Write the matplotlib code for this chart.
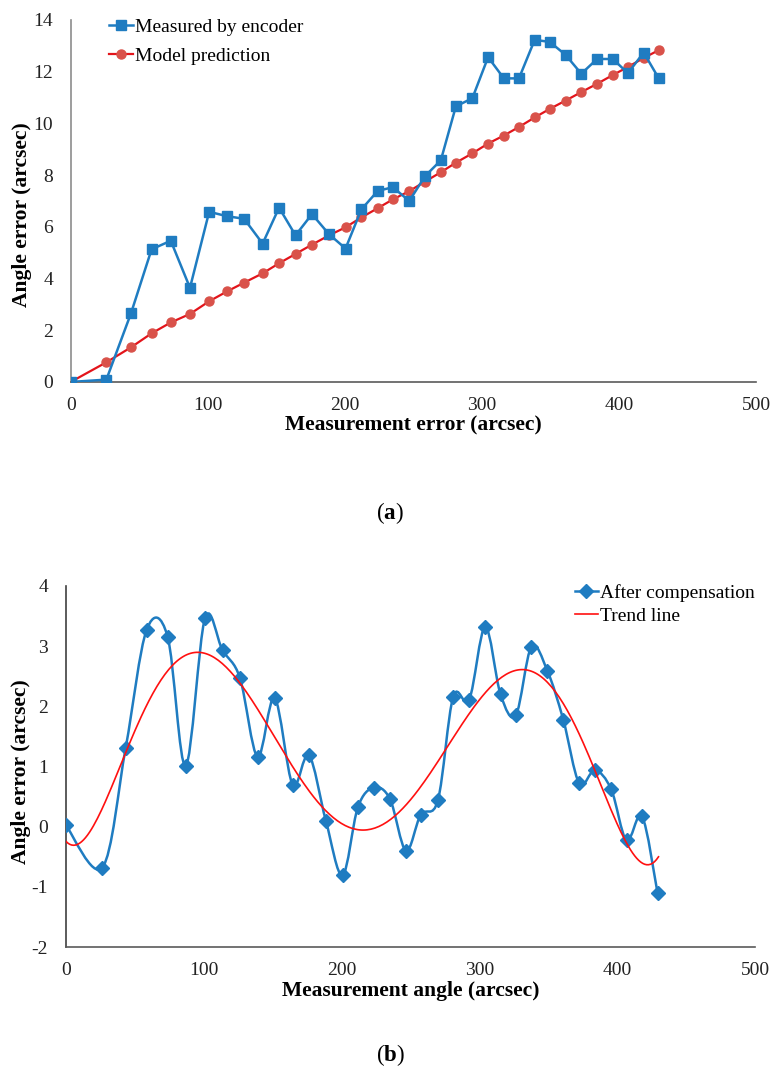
import numpy as np
import matplotlib
matplotlib.use("Agg")
import matplotlib.pyplot as plt
from matplotlib.path import Path
from matplotlib.patches import PathPatch
from matplotlib.lines import Line2D

plt.rcParams["font.family"] = "Liberation Serif"
plt.rcParams["mathtext.fontset"] = "custom"
plt.rcParams["mathtext.bf"] = "Liberation Serif:bold"
plt.rcParams["mathtext.rm"] = "Liberation Serif"
plt.rcParams["axes.unicode_minus"] = False

# (a) encoder vs model
x_a = [0, 26, 44, 59, 73, 87, 101, 114, 126.5, 140, 152, 164, 176, 188.5, 200.5,
       212, 224, 235, 247, 258.5, 270, 281, 293, 304.5, 316, 327, 338.5, 349.5,
       361, 372.5, 384, 395.5, 406.5, 418, 429]
measured = [0, 0.09, 2.66, 5.13, 5.46, 3.64, 6.58, 6.41, 6.31, 5.35, 6.74, 5.67,
            6.49, 5.71, 5.16, 6.67, 7.39, 7.53, 7.0, 7.96, 8.57, 10.66, 10.97,
            12.56, 11.74, 11.74, 13.23, 13.15, 12.65, 11.92, 12.49, 12.49, 11.94,
            12.74, 11.74]
model = [0, 0.76, 1.34, 1.88, 2.30, 2.63, 3.12, 3.50, 3.84, 4.20, 4.59, 4.95,
         5.31, 5.67, 5.98, 6.36, 6.72, 7.06, 7.38, 7.75, 8.11, 8.48, 8.84, 9.22,
         9.53, 9.86, 10.23, 10.56, 10.88, 11.21, 11.53, 11.87, 12.18, 12.53, 12.83]

# (b) after compensation
x_b = [0, 26.6, 43.5, 58.7, 73.9, 87, 101, 113.8, 126.4, 139.2, 151.5, 164.6,
       176.4, 188.7, 200.8, 211.9, 223.5, 235.2, 246.8, 257.6, 270, 281.1, 292.7,
       304.3, 315.4, 326.5, 337.8, 349.4, 360.9, 372.5, 383.9, 395.7, 406.8,
       418.1, 429.3]
compensated = [0.03, -0.68, 1.31, 3.27, 3.16, 1.01, 3.46, 2.93, 2.47, 1.16, 2.14,
               0.70, 1.19, 0.10, -0.81, 0.32, 0.65, 0.46, -0.40, 0.20, 0.44, 2.16,
               2.11, 3.32, 2.20, 1.85, 2.99, 2.59, 1.78, 0.72, 0.94, 0.62, -0.23,
               0.17, -1.10]

blue = "#1f7cc1"
red_line = "#e3141b"
red_mark = "#d9524a"
tick_fs = 14
label_fs = 15.5

fig = plt.figure(figsize=(7.73, 10.72), dpi=100)
ax1 = fig.add_axes([0.0915, 0.6437, 0.8866, 0.3377])
ax2 = fig.add_axes([0.085, 0.1166, 0.8917, 0.3368])


def style_axes(ax, left_color):
    for s in ["top", "right"]:
        ax.spines[s].set_visible(False)
    ax.spines["left"].set_color(left_color)
    ax.spines["bottom"].set_color("#5a5a5a")
    ax.spines["left"].set_linewidth(1.2)
    ax.spines["bottom"].set_linewidth(1.2)
    ax.tick_params(axis="x", length=0, pad=10.8, labelsize=tick_fs, colors="#222222")
    ax.tick_params(axis="y", length=0, pad=12.7, labelsize=tick_fs, colors="#222222")


# ---- (a) ----
ax1.plot(x_a, model, color=red_line, lw=1.6, marker="o", ms=6.5,
         mfc=red_mark, mec=red_mark, label="Model prediction", zorder=2)
ax1.plot(x_a, measured, color=blue, lw=1.8, marker="s", ms=7.2,
         mfc=blue, mec=blue, label="Measured by encoder", zorder=3)
ax1.set_xlim(0, 500)
ax1.set_ylim(0, 14)
ax1.set_xticks(np.arange(0, 501, 100))
ax1.set_yticks(np.arange(0, 15, 2))
style_axes(ax1, "#8c8c8c")
ax1.set_xlabel("Measurement error (arcsec)", fontsize=label_fs, fontweight="bold")
ax1.set_ylabel("Angle error (arcsec)", fontsize=label_fs, fontweight="bold")
ax1.xaxis.set_label_coords(0.5, -0.094)
ax1.yaxis.set_label_coords(-0.0565, 0.461)
h, l = ax1.get_legend_handles_labels()
ax1.legend(h[::-1], l[::-1], loc="upper left", bbox_to_anchor=(0.045, 1.025),
           frameon=False, fontsize=14, handlelength=1.2, handletextpad=0.1,
           labelspacing=0.55, borderaxespad=0)

# ---- (b) ----
xb = np.asarray(x_b, float)
yb = np.asarray(compensated, float)
pts = np.column_stack([xb, yb])
verts = [pts[0]]
codes = [Path.MOVETO]
n = len(pts)
for i in range(n - 1):
    p0 = pts[max(i - 1, 0)]
    p1 = pts[i]
    p2 = pts[i + 1]
    p3 = pts[min(i + 2, n - 1)]
    c1 = p1 + (p2 - p0) / 6.0
    c2 = p2 - (p3 - p1) / 6.0
    verts += [c1, c2, p2]
    codes += [Path.CURVE4] * 3
ax2.add_patch(PathPatch(Path(verts, codes), fc="none", ec=blue, lw=1.8, zorder=2))
ax2.plot(x_b, compensated, ls="none", marker="D", ms=7.5, mfc=blue, mec=blue, zorder=3)

# 6th order polynomial trend line
coef = np.polyfit(xb, yb, 6)
xt = np.linspace(0, 430, 300)
ax2.plot(xt, np.polyval(coef, xt), color="#ff1010", lw=1.2, zorder=4)

ax2.set_xlim(0, 500)
ax2.set_ylim(-2, 4)
ax2.set_xticks(np.arange(0, 501, 100))
ax2.set_yticks(np.arange(-2, 5, 1))
style_axes(ax2, "#404040")
ax2.set_xlabel("Measurement angle (arcsec)", fontsize=label_fs, fontweight="bold")
ax2.set_ylabel("Angle error (arcsec)", fontsize=label_fs, fontweight="bold")
ax2.xaxis.set_label_coords(0.5, -0.094)
ax2.yaxis.set_label_coords(-0.05, 0.485)
handles = [Line2D([], [], color=blue, lw=1.8, marker="D", ms=7.5, mfc=blue, mec=blue),
           Line2D([], [], color="#ff1010", lw=1.2)]
ax2.legend(handles, ["After compensation", "Trend line"], loc="upper left",
           bbox_to_anchor=(0.727, 1.027), frameon=False, fontsize=14,
           handlelength=1.2, handletextpad=0.1, labelspacing=0.3, borderaxespad=0)

fig.text(390 / 773, 1 - 513 / 1072, r"($\mathbf{a}$)", fontsize=16.5,
         ha="center", va="center")
fig.text(390 / 773, 1 - 1055 / 1072, r"($\mathbf{b}$)", fontsize=16.5,
         ha="center", va="center")

fig.savefig("out.png", dpi=100)
